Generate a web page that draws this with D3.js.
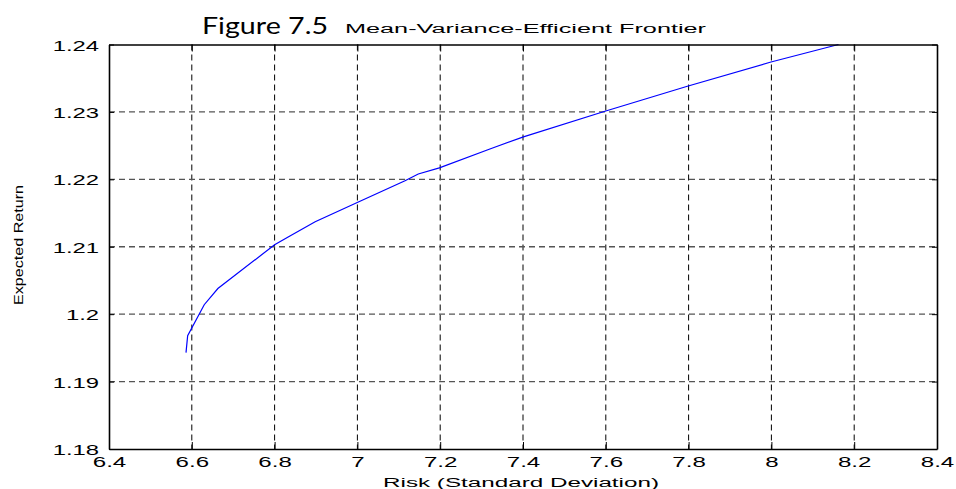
<!DOCTYPE html>
<html>
<head>
<meta charset="utf-8">
<script src="https://cdn.jsdelivr.net/npm/d3@7/dist/d3.min.js"></script>
<style>
  html, body { margin: 0; padding: 0; background: #fff; }
  svg { display: block; }
  text { fill: #000; }
</style>
</head>
<body>
<svg id="chart" width="956" height="489"></svg>
<script>
// Efficient frontier: risk (standard deviation) vs expected return
const risk = [6.586, 6.590, 6.630, 6.663, 6.800, 6.837, 6.898, 7.001, 7.115, 7.147,
              7.198, 7.320, 7.401, 7.598, 7.797, 7.999, 8.162];
const expectedReturn = [1.1943, 1.1968, 1.2014, 1.2038, 1.2103, 1.2116, 1.2137, 1.2166, 1.2198, 1.2208,
                        1.2217, 1.2245, 1.2263, 1.2301, 1.2338, 1.2374, 1.2400];
const xTicks = [6.4, 6.6, 6.8, 7, 7.2, 7.4, 7.6, 7.8, 8, 8.2, 8.4];
const yTicks = [1.18, 1.19, 1.2, 1.21, 1.22, 1.23, 1.24];
const xDomain = [6.4, 8.4];
const yDomain = [1.18, 1.24];

const svg = d3.select("#chart");
const plotLeft = 109, plotRight = 937, plotTop = 44.5, plotBottom = 449;
const sans = "'Liberation Sans', Arial, sans-serif";

const x = d3.scaleLinear().domain(xDomain).range([plotLeft, plotRight]);
const y = d3.scaleLinear().domain(yDomain).range([plotBottom, plotTop]);

// stretch a text element horizontally by factor k
function widen(sel, k) {
  sel.each(function () {
    const w = this.getComputedTextLength();
    d3.select(this).attr("textLength", w * k).attr("lengthAdjust", "spacingAndGlyphs");
  });
}
function fitTo(sel, w) {
  sel.attr("textLength", w).attr("lengthAdjust", "spacingAndGlyphs");
}

// grid
svg.append("g").selectAll("line")
  .data(xTicks.slice(1, -1)).join("line")
  .attr("x1", d => x(d)).attr("x2", d => x(d))
  .attr("y1", plotTop).attr("y2", plotBottom)
  .attr("stroke", "#000").attr("stroke-width", 1)
  .attr("stroke-dasharray", "6,4");

svg.append("g").selectAll("line")
  .data(yTicks.slice(1, -1)).join("line")
  .attr("x1", plotLeft).attr("x2", plotRight)
  .attr("y1", d => y(d)).attr("y2", d => y(d))
  .attr("stroke", "#555").attr("stroke-width", 1.3)
  .attr("stroke-dasharray", "6,4");

// frontier curve
const pts = risk.map((r, i) => [r, expectedReturn[i]]);
svg.append("path")
  .datum(pts)
  .attr("fill", "none")
  .attr("stroke", "#0000ff")
  .attr("stroke-width", 1.2)
  .attr("d", d3.line().x(d => x(d[0])).y(d => y(d[1])));

// axes (ticks pointing inward)
const axB = svg.append("g").attr("transform", `translate(0,${plotBottom})`)
  .call(d3.axisBottom(x).tickValues(xTicks).tickSizeInner(-7).tickSizeOuter(0).tickPadding(12)
        .tickFormat(d3.format("")));
const axT = svg.append("g").attr("transform", `translate(0,${plotTop})`)
  .call(d3.axisTop(x).tickValues(xTicks).tickSizeInner(-7).tickSizeOuter(0).tickFormat(""));
const axL = svg.append("g").attr("transform", `translate(${plotLeft},0)`)
  .call(d3.axisLeft(y).tickValues(yTicks).tickSizeInner(-5).tickSizeOuter(0).tickPadding(10)
        .tickFormat(d3.format("")));
const axR = svg.append("g").attr("transform", `translate(${plotRight},0)`)
  .call(d3.axisRight(y).tickValues(yTicks).tickSizeInner(-5).tickSizeOuter(0).tickFormat(""));

[axB, axT, axL, axR].forEach(a => {
  a.select(".domain").attr("stroke", "#000").attr("stroke-width", 1.6);
  a.selectAll(".tick line").attr("stroke", "#000").attr("stroke-width", 1);
});

axB.selectAll(".tick text")
  .style("font-family", sans).style("font-size", "14px")
  .attr("fill", "#000").attr("dy", "0.71em").attr("y", 8.5);
widen(axB.selectAll(".tick text"), 1.72);

axL.selectAll(".tick text")
  .style("font-family", sans).style("font-size", "14px")
  .attr("fill", "#000").attr("x", -10).attr("dy", "0.4em");
widen(axL.selectAll(".tick text"), 1.7);

// titles
svg.append("text")
  .attr("x", 202).attr("y", 34)
  .style("font-family", "Lato, 'Open Sans', sans-serif")
  .style("font-size", "24px")
  .text("Figure 7.5")
  .call(fitTo, 126);

svg.append("text")
  .attr("x", 345).attr("y", 32.5)
  .style("font-family", sans).style("font-size", "12.5px")
  .text("Mean-Variance-Efficient Frontier")
  .call(fitTo, 361);

svg.append("text")
  .attr("x", 521).attr("y", 486.5)
  .attr("text-anchor", "middle")
  .style("font-family", sans).style("font-size", "12.5px")
  .text("Risk (Standard Deviation)")
  .call(fitTo, 276);

svg.append("text")
  .attr("transform", `translate(23,245) rotate(-90)`)
  .attr("text-anchor", "middle")
  .style("font-family", sans).style("font-size", "13px")
  .text("Expected Return")
  .call(fitTo, 120);
</script>
</body>
</html>
